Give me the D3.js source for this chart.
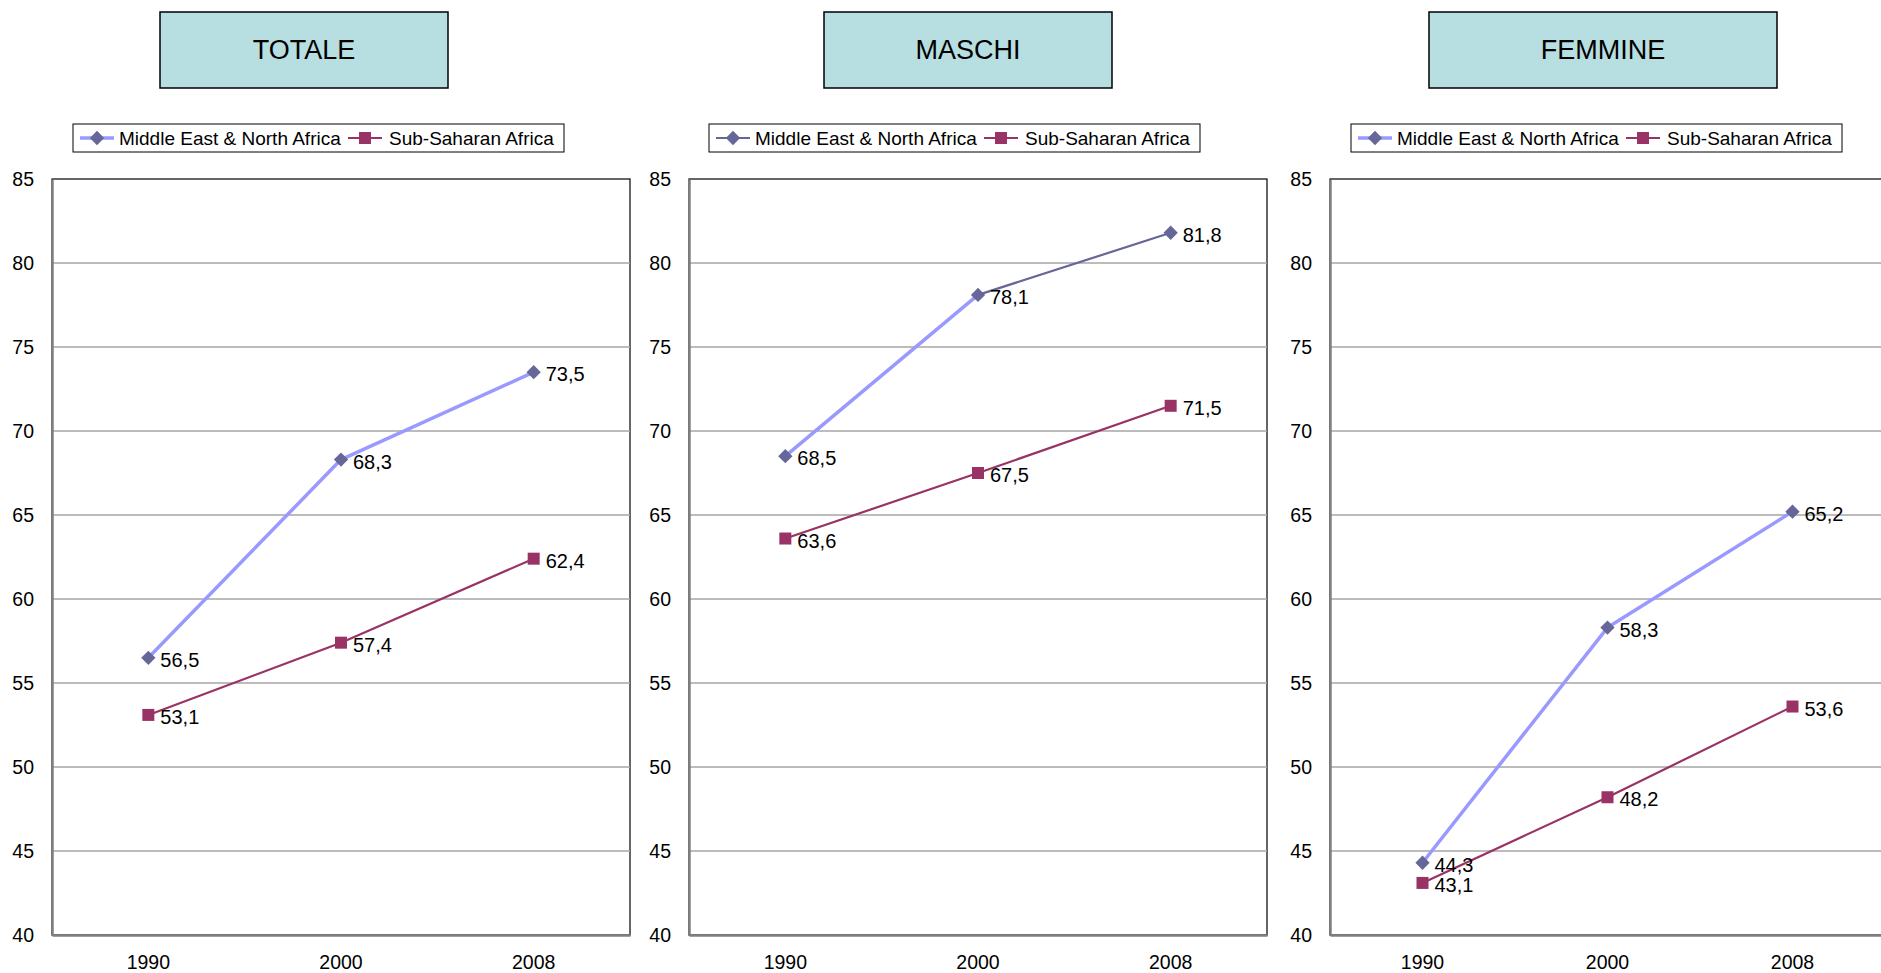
<!DOCTYPE html>
<html>
<head>
<meta charset="utf-8">
<script src="https://cdn.jsdelivr.net/npm/d3@7"></script>
<style>
    body { margin: 0; background: #fff; }
    svg { display: block; font-family: "Liberation Sans", Arial, sans-serif; }
</style>
</head>
<body>
<svg id="chart" width="1881" height="973"></svg>
<script>
const years = ['1990', '2000', '2008'];
const yTicks = [40, 45, 50, 55, 60, 65, 70, 75, 80, 85];
const seriesNames = ['Middle East & North Africa', 'Sub-Saharan Africa'];
const panelTitles = ['TOTALE', 'MASCHI', 'FEMMINE'];

const menaTotale = [56.5, 68.3, 73.5];
const ssaTotale = [53.1, 57.4, 62.4];
const menaMaschi = [68.5, 78.1, 81.8];
const ssaMaschi = [63.6, 67.5, 71.5];
const menaFemmine = [44.3, 58.3, 65.2];
const ssaFemmine = [43.1, 48.2, 53.6];

// which MENA segments got the light thick line in the original workbook
const menaLightSegments = [
    [true, true],
    [true, false],
    [true, true]
];

const panels = [
    { title: panelTitles[0], mena: menaTotale, ssa: ssaTotale, light: menaLightSegments[0], legendLight: true },
    { title: panelTitles[1], mena: menaMaschi, ssa: ssaMaschi, light: menaLightSegments[1], legendLight: false },
    { title: panelTitles[2], mena: menaFemmine, ssa: ssaFemmine, light: menaLightSegments[2], legendLight: true }
];

// layout, per panel
const layout = [
    { left: 52, width: 578, titleX: 160, titleW: 288, legendX: 73 },
    { left: 689, width: 578, titleX: 824, titleW: 288, legendX: 709 },
    { left: 1330, width: 555, titleX: 1429, titleW: 348, legendX: 1351 }
];
const plotTop = 179;
const plotBottom = 935;

const colors = {
    menaLight: '#9999ff',
    menaDark: '#666699',
    ssa: '#993366',
    grid: '#a6a6a6',
    titleFill: '#b7dee1'
};

const fmt = d3.formatLocale({ decimal: ',', thousands: '.', grouping: [3], currency: ['', ''] }).format('.1f');

const svg = d3.select('#chart');

const y = d3.scaleLinear()
    .domain([40, 85])
    .range([plotBottom, plotTop]);

const diamond = d3.symbol().type(d3.symbolDiamond2).size(130);
const squareSize = 12;

function drawLegend(g, x0, legendLight) {
    const lg = g.append('g').attr('transform', `translate(${x0},124)`);
    lg.append('rect')
        .attr('width', 491)
        .attr('height', 28)
        .attr('fill', '#fff')
        .attr('stroke', '#000')
        .attr('stroke-width', 1);

    const cy = 14;
    // MENA entry
    lg.append('line')
        .attr('x1', 7).attr('x2', 41)
        .attr('y1', cy).attr('y2', cy)
        .attr('stroke', legendLight ? colors.menaLight : colors.menaDark)
        .attr('stroke-width', legendLight ? 3.5 : 2.2);
    lg.append('path')
        .attr('d', diamond)
        .attr('transform', `translate(24,${cy})`)
        .attr('fill', colors.menaDark);
    lg.append('text')
        .attr('x', 46).attr('y', cy)
        .attr('dy', '0.35em')
        .attr('font-size', 19)
        .text(seriesNames[0]);

    // SSA entry
    lg.append('line')
        .attr('x1', 275).attr('x2', 309)
        .attr('y1', cy).attr('y2', cy)
        .attr('stroke', colors.ssa)
        .attr('stroke-width', 2.2);
    lg.append('rect')
        .attr('x', 292 - squareSize / 2).attr('y', cy - squareSize / 2)
        .attr('width', squareSize).attr('height', squareSize)
        .attr('fill', colors.ssa);
    lg.append('text')
        .attr('x', 316).attr('y', cy)
        .attr('dy', '0.35em')
        .attr('font-size', 19)
        .text(seriesNames[1]);
}

panels.forEach((panel, i) => {
    const box = layout[i];
    const g = svg.append('g');

    // title box
    g.append('rect')
        .attr('x', box.titleX).attr('y', 12)
        .attr('width', box.titleW).attr('height', 76)
        .attr('fill', colors.titleFill)
        .attr('stroke', '#000')
        .attr('stroke-width', 1.5);
    g.append('text')
        .attr('x', box.titleX + box.titleW / 2)
        .attr('y', 50)
        .attr('dy', '0.35em')
        .attr('text-anchor', 'middle')
        .attr('font-size', 27)
        .text(panel.title);

    drawLegend(g, box.legendX, panel.legendLight);

    const x = d3.scaleBand()
        .domain(years)
        .range([box.left, box.left + box.width])
        .padding(0);
    const cx = d => x(d) + x.bandwidth() / 2;

    // plot frame
    g.append('rect')
        .attr('x', box.left).attr('y', plotTop)
        .attr('width', box.width).attr('height', plotBottom - plotTop)
        .attr('fill', '#fff')
        .attr('stroke', '#000')
        .attr('stroke-width', 1.2);

    // gridlines
    g.append('g')
        .selectAll('line')
        .data(yTicks.filter(t => t > 40 && t < 85))
        .join('line')
        .attr('x1', box.left).attr('x2', box.left + box.width)
        .attr('y1', d => y(d)).attr('y2', d => y(d))
        .attr('stroke', colors.grid)
        .attr('stroke-width', 1.5);

    // axes
    const yAxe = d3.axisLeft(y).tickValues(yTicks).tickSize(0).tickPadding(18).tickFormat(d3.format('d'));
    const yG = g.append('g')
        .attr('transform', `translate(${box.left},0)`)
        .call(yAxe);
    yG.select('.domain').attr('stroke', '#808080').attr('stroke-width', 2.5);
    yG.selectAll('text').attr('font-size', 19.5).attr('fill', '#000').attr('font-family', null);

    const xAxe = d3.axisBottom(x).tickSize(0).tickPadding(20);
    const xG = g.append('g')
        .attr('transform', `translate(0,${plotBottom})`)
        .call(xAxe);
    xG.select('.domain').attr('stroke', '#808080').attr('stroke-width', 2.5);
    xG.selectAll('text').attr('font-size', 19.5).attr('fill', '#000').attr('font-family', null);

    // SSA series
    const ssaPts = years.map((yr, k) => [cx(yr), y(panel.ssa[k])]);
    g.append('path')
        .attr('d', d3.line()(ssaPts))
        .attr('fill', 'none')
        .attr('stroke', colors.ssa)
        .attr('stroke-width', 2.2);

    // MENA series, segment by segment
    const menaPts = years.map((yr, k) => [cx(yr), y(panel.mena[k])]);
    g.append('g')
        .selectAll('line')
        .data(d3.range(years.length - 1))
        .join('line')
        .attr('x1', k => menaPts[k][0]).attr('y1', k => menaPts[k][1])
        .attr('x2', k => menaPts[k + 1][0]).attr('y2', k => menaPts[k + 1][1])
        .attr('stroke', k => (panel.light[k] ? colors.menaLight : colors.menaDark))
        .attr('stroke-width', k => (panel.light[k] ? 3.5 : 2.2))
        .attr('stroke-linecap', 'round');

    g.append('g')
        .selectAll('rect')
        .data(ssaPts)
        .join('rect')
        .attr('x', d => d[0] - squareSize / 2).attr('y', d => d[1] - squareSize / 2)
        .attr('width', squareSize).attr('height', squareSize)
        .attr('fill', colors.ssa);

    g.append('g')
        .selectAll('path')
        .data(menaPts)
        .join('path')
        .attr('d', diamond)
        .attr('transform', d => `translate(${d[0]},${d[1]})`)
        .attr('fill', colors.menaDark);

    // data labels
    const labels = [];
    years.forEach((yr, k) => {
        labels.push({ x: cx(yr), y: y(panel.mena[k]), v: panel.mena[k] });
        labels.push({ x: cx(yr), y: y(panel.ssa[k]), v: panel.ssa[k] });
    });
    g.append('g')
        .selectAll('text')
        .data(labels)
        .join('text')
        .attr('x', d => d.x + 12)
        .attr('y', d => d.y + 2)
        .attr('dy', '0.35em')
        .attr('font-size', 20)
        .text(d => fmt(d.v));
});
</script>
</body>
</html>
